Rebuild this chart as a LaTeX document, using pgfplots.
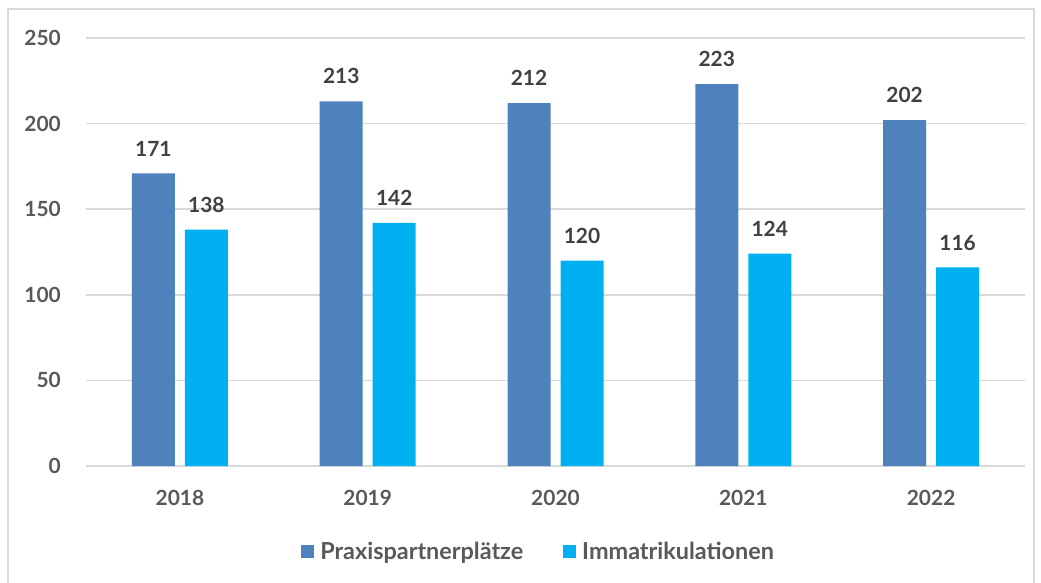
\documentclass[border=0pt]{standalone}
\usepackage{pgfplots}
\pgfplotsset{compat=1.18}
\usepackage{fontspec}
\setmainfont{Lato}
\definecolor{blau}{HTML}{4F81BD}
\definecolor{hellblau}{HTML}{00B0F0}
\definecolor{gitter}{HTML}{D9D9D9}
\definecolor{schrift}{HTML}{595959}
\definecolor{wert}{HTML}{404040}
\newcommand{\lblfont}{\fontsize{21}{24}\selectfont\bfseries}
\newcommand{\legfont}{\fontsize{23.5}{27}\selectfont\bfseries}
\begin{document}
\begin{tikzpicture}[x=1bp,y=1bp]
\useasboundingbox (0,0) rectangle (1041,-583);
\draw[gitter, line width=1.5bp] (8,-600) -- (8,-9) -- (1034,-9) -- (1034,-600);
\begin{axis}[
  at={(86bp,-466bp)}, anchor=south west,
  scale only axis, width=939bp, height=428bp,
  ybar=10bp, bar width=43bp,
  xmin=-0.5, xmax=4.5, ymin=0, ymax=250,
  xtick={0,1,2,3,4},
  xticklabels={2018,2019,2020,2021,2022},
  ytick={0,50,...,250},
  axis line style={draw=none},
  major tick length=0pt,
  ymajorgrids,
  grid style={gitter, line width=1.5bp},
  /pgf/number format/assume math mode=true,
  tick label style={font=\lblfont, color=schrift, inner sep=0pt},
  yticklabel style={anchor=east, xshift=-25bp},
  xticklabel style={anchor=north, yshift=-24bp},
  nodes near coords,
  nodes near coords style={font=\lblfont, color=wert, inner sep=0pt, anchor=south, yshift=17bp},
  legend style={draw=none, at={(0.481,-0.199)}, anchor=center, legend columns=2,
    font=\legfont, text=schrift, inner sep=0pt,
    nodes={inner sep=0pt},
    /tikz/every odd column/.append style={column sep=6bp},
    /tikz/every even column/.append style={column sep=40bp}},
  legend image code/.code={\fill[#1] (0bp,-6.5bp) rectangle (13bp,6.5bp);},
]
\addplot[fill=blau, draw=none] coordinates {(0,171) (1,213) (2,212) (3,223) (4,202)};
\addplot[fill=hellblau, draw=none] coordinates {(0,138) (1,142) (2,120) (3,124) (4,116)};
\legend{Praxispartnerplätze, Immatrikulationen}
\end{axis}
\end{tikzpicture}
\end{document}
